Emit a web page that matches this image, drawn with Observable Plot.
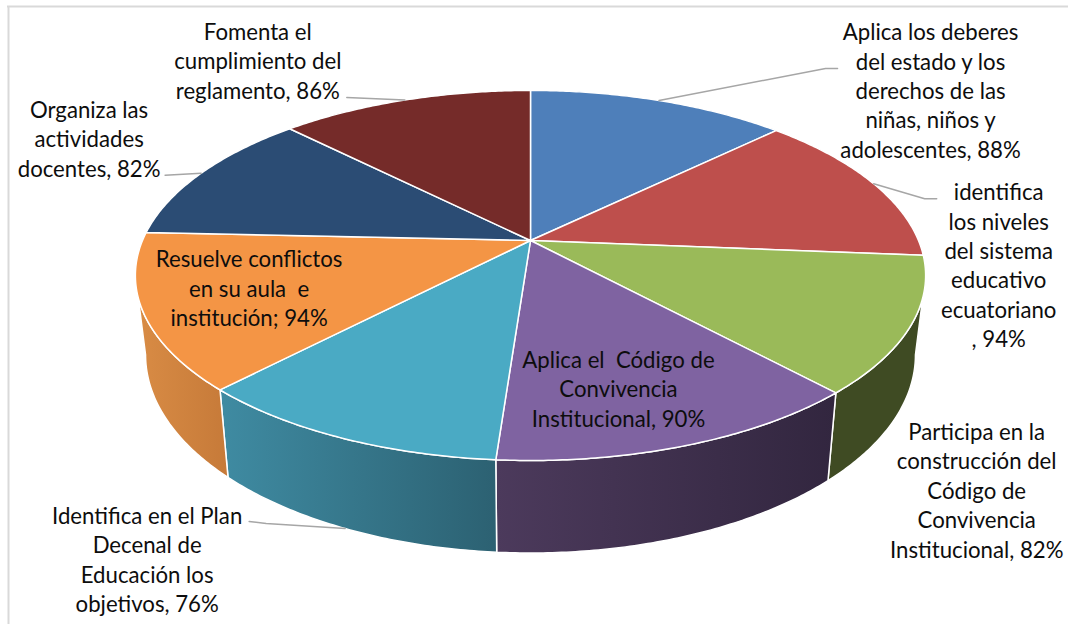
<!DOCTYPE html>
<html lang="es">
<head>
<meta charset="utf-8">
<title>Gráfico circular</title>
<script src="https://cdn.jsdelivr.net/npm/d3@7"></script>
<script src="https://cdn.jsdelivr.net/npm/@observablehq/plot@0.6"></script>
<style>
  html, body { margin: 0; background: #fff; }
  svg { display: block; }
</style>
</head>
<body>
<div id="chart"></div>
<script>
// Pie values, clockwise from twelve o'clock
const sliceNames = [
  "Aplica los deberes\ndel estado y los\nderechos de las\nniñas, niños y\nadolescentes",
  "identifica\nlos niveles\ndel sistema\neducativo\necuatoriano\n",
  "Participa en la\nconstrucción del\nCódigo de\nConvivencia\nInstitucional",
  "Aplica el  Código de\nConvivencia\nInstitucional",
  "Identifica en el Plan\nDecenal de\nEducación los\nobjetivos",
  "Resuelve conflictos\nen su aula  e\ninstitución",
  "Organiza las\nactividades\ndocentes",
  "Fomenta el\ncumplimiento del\nreglamento"
];
const sliceValues = [88, 94, 82, 90, 76, 94, 82, 86];
const sliceSeparators = [", ", ", ", ", ", ", ", ", ", "; ", ", ", ", "];

// Fill of each slice's top face, and the left and right shades of its side wall
const topColors = ["#4e7fba", "#be4f4c", "#9aba59", "#7f63a1", "#4aaac4", "#f49545", "#2b4c74", "#752b29"];
const wallLeft = ["#3b618e", "#903c3a", "#3f4b23", "#4c3a5c", "#3f8ba2", "#d98c45", "#213a58", "#592120"];
const wallRight = ["#3b618e", "#903c3a", "#3f4b23", "#32263f", "#2c6172", "#c67a39", "#213a58", "#592120"];

// Label placement, as offsets from the slice's rim midpoint
const labelOffsets = [[271.5, -11], [125, 80.5], [66, 163.5], [-67.7, -57.5], [-198, 30], [106, -24.5], [-112, -35.5], [-147, -40]];
// Leader line bends, same offsets; empty where the label has no leader
const leaderBends = [
  [[166.5, -32], [178.5, -32]],
  [[51, 15], [63, 15]],
  [],
  [],
  [[-79, -5], [-96, -7]],
  [],
  [[-36, 2]],
  [[-58, -2.6]]
];
// The one slice whose label hangs off the lower rim instead of the upper one
const anchoredOnLowerRim = [false, false, false, false, true, false, false, false];

// Perspective of the tilted disc: the upper and lower faces share a tilt
const tilt = 0.189;
const centerX = 530;
const upperFace = {cy: 240, depth: 178.4, radius: 388};
const lowerFace = {cy: 317, depth: 191, radius: 378};

function rim(face, angle) {
  const u = Math.sin(angle), v = Math.cos(angle), s = 1 / (1 + tilt * v);
  return {x: centerX + face.radius * u * s, y: face.cy - face.depth * v * s};
}

function arc(face, from, to) {
  const steps = Math.max(2, Math.ceil(Math.abs(to - from) / 0.01));
  return d3.range(steps + 1).map((i) => rim(face, from + (to - from) * i / steps));
}

const total = d3.sum(sliceValues);
const cumulative = d3.cumsum(sliceValues);
const slices = sliceValues.map((value, i) => {
  const end = cumulative[i] / total * 2 * Math.PI;
  const start = end - value / total * 2 * Math.PI;
  const anchor = rim(anchoredOnLowerRim[i] ? lowerFace : upperFace, (start + end) / 2);
  return {i, value, start, end, anchor,
          text: sliceNames[i] + sliceSeparators[i] + value + "%"};
});

// The wall shows between the two points where the disc's outline turns vertical
const wallFrom = Math.acos(-tilt);
const wallTo = 2 * Math.PI - wallFrom;

const hub = {x: centerX, y: upperFace.cy};
const topFaces = slices.map((d) => [hub, ...arc(upperFace, d.start, d.end), hub]);
const walls = slices
  .filter((d) => d.end > wallFrom && d.start < wallTo)
  .map((d) => {
    const a = Math.max(d.start, wallFrom), b = Math.min(d.end, wallTo);
    const ring = [...arc(upperFace, a, b), ...arc(lowerFace, b, a)];
    return {i: d.i, ring: [...ring, ring[0]]};
  });

const labels = slices.map((d) => ({
  x: d.anchor.x + labelOffsets[d.i][0],
  y: d.anchor.y + labelOffsets[d.i][1],
  text: d.text
}));

const leaders = slices
  .filter((d) => leaderBends[d.i].length)
  .map((d) => [d.anchor, ...leaderBends[d.i].map(([dx, dy]) => ({x: d.anchor.x + dx, y: d.anchor.y + dy}))]);

// Horizontal shading of the walls, referenced by the wall marks below
function wallGradients() {
  const defs = d3.create("svg:defs");
  walls.forEach(({i}) => {
    const g = defs.append("linearGradient").attr("id", `wall-${i}`);
    g.append("stop").attr("offset", "0%").attr("stop-color", wallLeft[i]);
    g.append("stop").attr("offset", "100%").attr("stop-color", wallRight[i]);
  });
  return defs.node();
}

const fontSize = 22.2;
const lineGap = 29.4;
const plot = Plot.plot({
  width: 1068,
  height: 624,
  margin: 0,
  x: {domain: [0, 1068], range: [0, 1068], axis: null},
  y: {domain: [0, 624], range: [0, 624], axis: null},
  style: {fontFamily: "Lato, sans-serif", background: "#fff"},
  marks: [
    // Chart area border, open at the right and bottom page edges
    Plot.ruleY([6], {x1: 7, x2: 1068, stroke: "#d9d9d9", strokeWidth: 2}),
    Plot.ruleX([8], {y1: 6, y2: 624, stroke: "#d9d9d9", strokeWidth: 2}),
    wallGradients,
    ...walls.map(({i, ring}) => Plot.line(ring, {
      x: "x", y: "y", fill: `url(#wall-${i})`, stroke: "#fff", strokeWidth: 1.5
    })),
    ...topFaces.map((ring, i) => Plot.line(ring, {
      x: "x", y: "y", fill: topColors[i], stroke: "#fff", strokeWidth: 1.5
    })),
    ...leaders.map((path) => Plot.line(path, {
      x: "x", y: "y", stroke: "#a6a6a6", strokeWidth: 1.5
    })),
    Plot.text(labels, {
      x: "x", y: "y", text: "text",
      textAnchor: "middle", lineAnchor: "middle",
      fontSize, lineHeight: lineGap / fontSize, fill: "#0d0d0d"
    })
  ]
});
document.getElementById("chart").append(plot);
</script>
</body>
</html>
